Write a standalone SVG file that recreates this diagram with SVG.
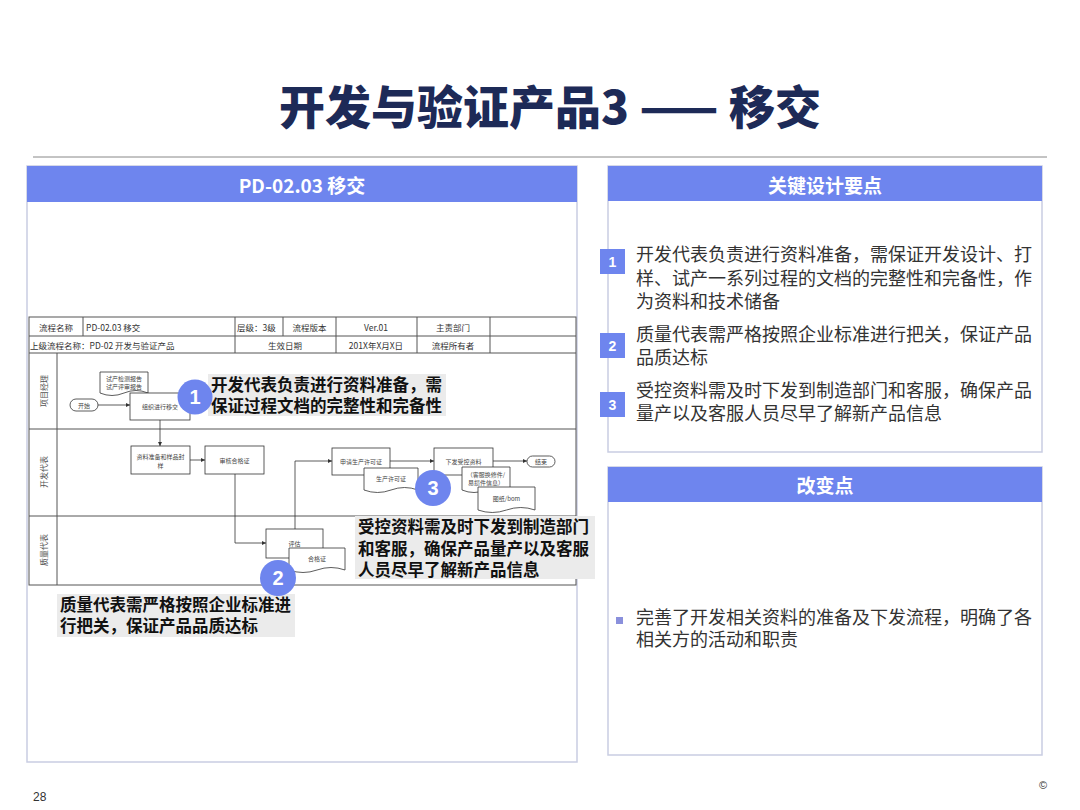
<svg xmlns="http://www.w3.org/2000/svg" width="1080" height="810" viewBox="0 0 1080 810">
<defs>
<style>
.cjk{font-family:"Noto Sans CJK SC","Noto Sans",sans-serif}
.hdr{fill:#6e85ee}
.hdrt{font-family:"Noto Sans CJK SC",sans-serif;font-weight:bold;font-size:19px;fill:#fff;text-anchor:middle;dominant-baseline:central}
.panel{fill:#fff;stroke:#c9cde2;stroke-width:1.5}
.body{font-family:"Noto Sans CJK SC",sans-serif;font-size:18px;fill:#333}
.num{fill:#6e85ee}
.numt{font-family:"Liberation Sans",sans-serif;font-weight:bold;font-size:14px;fill:#fff;text-anchor:middle;dominant-baseline:central}
.tbl{fill:none;stroke:#555;stroke-width:1}
.tt{font-family:"Noto Sans CJK SC",sans-serif;font-size:8.5px;fill:#333;dominant-baseline:central}
.ttc{text-anchor:middle}
.lane{font-family:"Noto Sans CJK SC",sans-serif;font-size:8px;fill:#555}
.box{fill:#fff;stroke:#333;stroke-width:0.8}
.st{font-family:"Noto Sans CJK SC",sans-serif;font-size:6px;fill:#444;text-anchor:middle;dominant-baseline:central}
.conn{fill:none;stroke:#333;stroke-width:0.8}
.circ{fill:#6e85ee}
.circt{font-family:"Liberation Sans",sans-serif;font-weight:bold;font-size:20px;fill:#fff;text-anchor:middle;dominant-baseline:central}
.cbg{fill:#ebebeb}
.ct{font-family:"Noto Sans CJK SC",sans-serif;font-weight:bold;font-size:16.5px;fill:#111}
</style>
<marker id="arr" viewBox="0 0 6 6" refX="6" refY="3" markerWidth="5" markerHeight="5" orient="auto">
<path d="M0,0 L6,3 L0,6 Z" fill="#333"/>
</marker>
</defs>
<rect width="1080" height="810" fill="#fff"/>

<g id="title">
<text x="550" y="104" text-anchor="middle" dominant-baseline="central" font-family="'Noto Sans CJK SC',sans-serif" font-weight="900" font-size="46" fill="#1d2a57">开发与验证产品3 —— 移交</text>
<line x1="33" y1="157" x2="1047" y2="157" stroke="#888" stroke-width="1"/>
</g>

<g id="left-panel">
<rect class="panel" x="27" y="166" width="550" height="596"/>
<rect class="hdr" x="27" y="166" width="550" height="36"/>
<text class="hdrt" x="302" y="184">PD-02.03 移交</text>
</g>

<g id="flow-table">
<rect class="tbl" x="29" y="317" width="547" height="268"/>
<line class="tbl" x1="29" y1="336" x2="576" y2="336"/>
<line class="tbl" x1="29" y1="353" x2="576" y2="353"/>
<line class="tbl" x1="83" y1="317" x2="83" y2="336"/>
<line class="tbl" x1="235" y1="317" x2="235" y2="353"/>
<line class="tbl" x1="283" y1="317" x2="283" y2="336"/>
<line class="tbl" x1="336" y1="317" x2="336" y2="353"/>
<line class="tbl" x1="417" y1="317" x2="417" y2="353"/>
<line class="tbl" x1="490" y1="317" x2="490" y2="353"/>
<line class="tbl" x1="57" y1="353" x2="57" y2="585"/>
<line class="tbl" x1="29" y1="429" x2="576" y2="429"/>
<line class="tbl" x1="29" y1="516" x2="576" y2="516"/>
<text class="tt ttc" x="56" y="326.5">流程名称</text>
<text class="tt" x="86" y="326.5">PD-02.03 移交</text>
<text class="tt" x="237" y="326.5">层级：3级</text>
<text class="tt ttc" x="309.5" y="326.5">流程版本</text>
<text class="tt ttc" x="376" y="326.5">Ver.01</text>
<text class="tt ttc" x="453" y="326.5">主责部门</text>
<text class="tt" x="30" y="344.5">上级流程名称：PD-02 开发与验证产品</text>
<text class="tt ttc" x="285" y="344.5">生效日期</text>
<text class="tt ttc" x="376" y="344.5">201X年X月X日</text>
<text class="tt ttc" x="453" y="344.5">流程所有者</text>
<text class="lane" x="43" y="391" text-anchor="middle" dominant-baseline="central" transform="rotate(-90 43 391)">项目经理</text>
<text class="lane" x="43" y="472" text-anchor="middle" dominant-baseline="central" transform="rotate(-90 43 472)">开发代表</text>
<text class="lane" x="43" y="550" text-anchor="middle" dominant-baseline="central" transform="rotate(-90 43 550)">质量代表</text>
</g>

<g id="connectors">
<line class="conn" x1="98" y1="405" x2="130" y2="405" marker-end="url(#arr)"/>
<line class="conn" x1="160" y1="420" x2="160" y2="446" marker-end="url(#arr)"/>
<line class="conn" x1="190" y1="460" x2="205" y2="460" marker-end="url(#arr)"/>
<polyline class="conn" points="235,474 235,543 266,543" marker-end="url(#arr)"/>
<polyline class="conn" points="295,529 295,461 332,461" marker-end="url(#arr)"/>
<line class="conn" x1="390" y1="461" x2="434" y2="461" marker-end="url(#arr)"/>
<line class="conn" x1="493" y1="461" x2="527" y2="461" marker-end="url(#arr)"/>
</g>

<g id="node-start">
<rect class="box" x="70" y="399" width="28" height="12" rx="6"/>
<text class="st" x="84" y="405">开始</text>
</g>
<g id="node-reports">
<path class="box" d="M100,372 H148 V393 Q136,388 124,393 Q112,398 100,393 Z"/>
<text class="st" x="124" y="378">试产检测报告</text>
<text class="st" x="124" y="386">试产评审报告</text>
</g>
<g id="node-handover">
<rect class="box" x="130" y="393" width="60" height="27"/>
<text class="st" x="160" y="406.5">组织进行移交</text>
</g>
<g id="node-prepare">
<rect class="box" x="131" y="446" width="59" height="28"/>
<text class="st" x="160.5" y="456">资料准备和样品封</text>
<text class="st" x="160.5" y="465">样</text>
</g>
<g id="node-audit">
<rect class="box" x="205" y="446" width="59" height="28"/>
<text class="st" x="234.5" y="460">审核合格证</text>
</g>
<g id="node-evaluate">
<rect class="box" x="266" y="529" width="57" height="29"/>
<text class="st" x="294.5" y="543">评估</text>
</g>
<g id="node-certificate">
<path class="box" d="M289,548 H345 V570 Q331,565 317,570 Q303,575 289,570 Z"/>
<text class="st" x="317" y="558">合格证</text>
</g>
<g id="node-apply">
<rect class="box" x="332" y="448" width="58" height="27"/>
<text class="st" x="361" y="461">申请生产许可证</text>
</g>
<g id="node-license">
<path class="box" d="M364,468 H418 V490 Q404.5,485 391,490 Q377.5,495 364,490 Z"/>
<text class="st" x="391" y="478">生产许可证</text>
</g>
<g id="node-issue">
<rect class="box" x="434" y="448" width="59" height="27"/>
<text class="st" x="463.5" y="461">下发受控资料</text>
</g>
<g id="node-service">
<path class="box" d="M462,467 H510 V490 Q498,485 486,490 Q474,495 462,490 Z"/>
<text class="st" x="486" y="474">（客服换修件/</text>
<text class="st" x="486" y="482">易损件信息）</text>
</g>
<g id="node-bom">
<path class="box" d="M478,487 H535 V510 Q520.75,505 506.5,510 Q492.25,515 478,510 Z"/>
<text class="st" x="506.5" y="498">图纸/bom</text>
</g>
<g id="node-end">
<rect class="box" x="527" y="456" width="28" height="11" rx="5.5"/>
<text class="st" x="541" y="461.5">结束</text>
</g>

<g id="callout-1">
<rect class="cbg" x="208" y="374" width="238" height="42"/>
<text class="ct" x="211" y="391">开发代表负责进行资料准备，需</text>
<text class="ct" x="211" y="412">保证过程文档的完整性和完备性</text>
<circle class="circ" cx="195" cy="397" r="17.5"/>
<text class="circt" x="195" y="397">1</text>
</g>
<g id="callout-3">
<rect class="cbg" x="355" y="516" width="240" height="63"/>
<text class="ct" x="358" y="533">受控资料需及时下发到制造部门</text>
<text class="ct" x="358" y="555">和客服，确保产品量产以及客服</text>
<text class="ct" x="358" y="576">人员尽早了解新产品信息</text>
<circle class="circ" cx="433" cy="488" r="18"/>
<text class="circt" x="433" y="488">3</text>
</g>
<g id="callout-2">
<rect class="cbg" x="57" y="594" width="238" height="43"/>
<text class="ct" x="60" y="611">质量代表需严格按照企业标准进</text>
<text class="ct" x="60" y="632">行把关，保证产品品质达标</text>
<circle class="circ" cx="278" cy="578" r="18"/>
<text class="circt" x="278" y="578">2</text>
</g>

<g id="key-points">
<rect class="panel" x="608" y="166" width="434" height="286"/>
<rect class="hdr" x="608" y="166" width="434" height="35"/>
<text class="hdrt" x="825" y="184">关键设计要点</text>
<rect class="num" x="600" y="249" width="25" height="25"/>
<text class="numt" x="612.5" y="261.5">1</text>
<text class="body" x="636" y="261">开发代表负责进行资料准备，需保证开发设计、打</text>
<text class="body" x="636" y="285">样、试产一系列过程的文档的完整性和完备性，作</text>
<text class="body" x="636" y="308">为资料和技术储备</text>
<rect class="num" x="600" y="333" width="25" height="25"/>
<text class="numt" x="612.5" y="345.5">2</text>
<text class="body" x="636" y="341">质量代表需严格按照企业标准进行把关，保证产品</text>
<text class="body" x="636" y="364">品质达标</text>
<rect class="num" x="600" y="392" width="25" height="25"/>
<text class="numt" x="612.5" y="404.5">3</text>
<text class="body" x="636" y="397">受控资料需及时下发到制造部门和客服，确保产品</text>
<text class="body" x="636" y="420">量产以及客服人员尽早了解新产品信息</text>
</g>

<g id="changes">
<rect class="panel" x="608" y="467" width="434" height="288"/>
<rect class="hdr" x="608" y="467" width="434" height="35"/>
<text class="hdrt" x="825" y="484">改变点</text>
<rect x="616" y="617" width="7" height="7" fill="#8a90dc"/>
<text class="body" x="636" y="624">完善了开发相关资料的准备及下发流程，明确了各</text>
<text class="body" x="636" y="646">相关方的活动和职责</text>
</g>

<g id="footer">
<text x="33" y="801" font-family="'Liberation Sans',sans-serif" font-size="12" fill="#333">28</text>
<text x="1043" y="789" font-family="'Liberation Sans',sans-serif" font-size="11" fill="#333" text-anchor="middle">©</text>
</g>
</svg>
